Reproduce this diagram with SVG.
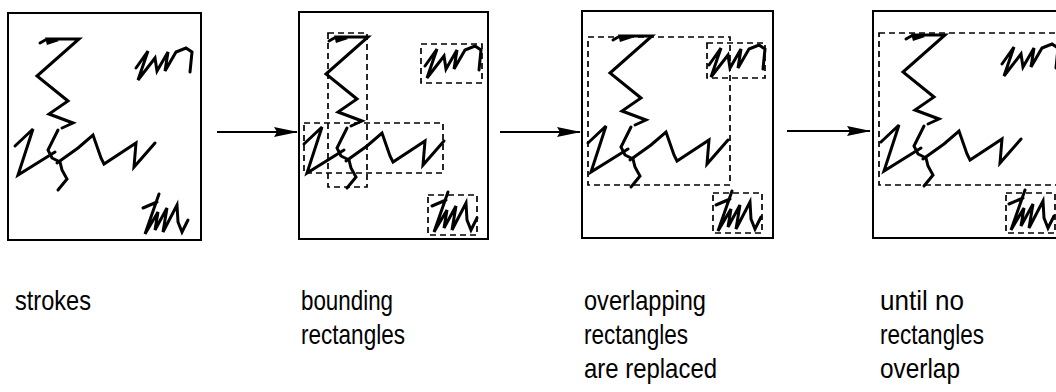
<svg xmlns="http://www.w3.org/2000/svg" xmlns:xlink="http://www.w3.org/1999/xlink" width="1056" height="392" viewBox="0 0 1056 392">
<style>
.panel{fill:#fff;stroke:#000;stroke-width:2}
.ink{fill:none;stroke:#000;stroke-width:3;stroke-linejoin:miter;stroke-linecap:round}
.box{fill:none;stroke:#000;stroke-width:1.7;stroke-dasharray:6 4}
.conn{stroke:#000;stroke-width:2;fill:none}
.lbl{font-family:"Liberation Sans",Arial,sans-serif;font-size:28px;fill:#000}
</style>
<defs>
<marker id="ah" markerWidth="24" markerHeight="10" refX="23" refY="5" orient="auto" markerUnits="userSpaceOnUse" viewBox="0 0 24 10">
<path d="M0,0 L24,5 L0,10 L3,5 Z" fill="#000"/>
</marker>
<g id="ink">
<path class="ink" d="M40,43 L47,39 L54,41 L48,43 L47,39 L79,39 L37,76 L68,101 L49,114 L73,123 L62,128"/>
<path class="ink" d="M58,130 L48,150 L52,158 L60,162 L62,170 L67,179 L58,190"/>
<path class="ink" d="M15,146 L33,129 L18,175 L55,152"/>
<path class="ink" d="M57,163 L78,148 L93,135 L101,158 L104,164 L136,143 L134,167 L155,143"/>
<path class="ink" d="M136,68 L148,51 L138,80 L155,58 L157,71 L168,52 L165,71 L176,52 L186,48 L192,52 L190,72"/>
<path class="ink" d="M143,208 L157,202 M159,194 L145,234 L158,212 L155,230 L167,208 L163,232 L177,205 L178,222 L182,232 L188,220"/>
</g>
</defs>

<g id="panel1">
<rect class="panel" x="8" y="13" width="193" height="227"/>
<use xlink:href="#ink"/>
</g>

<g id="panel2">
<rect class="panel" x="299" y="12" width="189" height="227"/>
<use xlink:href="#ink" transform="translate(289,-2)"/>
<rect class="box" x="328" y="33" width="39" height="154"/>
<rect class="box" x="304" y="123" width="139" height="50"/>
<rect class="box" x="421" y="44" width="61" height="39"/>
<rect class="box" x="428" y="195" width="49" height="40"/>
</g>

<g id="panel3">
<rect class="panel" x="582" y="11" width="191" height="227"/>
<use xlink:href="#ink" transform="translate(573,-3)"/>
<rect class="box" x="588" y="37" width="142" height="148"/>
<rect class="box" x="707" y="43" width="58" height="35"/>
<rect class="box" x="713" y="193" width="49" height="40"/>
</g>

<g id="panel4">
<rect class="panel" x="873" y="11" width="192" height="227"/>
<use xlink:href="#ink" transform="translate(866,-4)"/>
<rect class="box" x="879" y="33" width="190" height="152"/>
<rect class="box" x="1006" y="193" width="49" height="40"/>
</g>

<g id="connectors">
<line class="conn" x1="217" y1="132" x2="297" y2="132" marker-end="url(#ah)"/>
<line class="conn" x1="500" y1="132" x2="580" y2="132" marker-end="url(#ah)"/>
<line class="conn" x1="787" y1="131" x2="870" y2="131" marker-end="url(#ah)"/>
</g>

<g id="labels">
<text class="lbl" x="15" y="310" textLength="76" lengthAdjust="spacingAndGlyphs">strokes</text>
<text class="lbl" x="301" y="310" textLength="92" lengthAdjust="spacingAndGlyphs">bounding</text>
<text class="lbl" x="301" y="344" textLength="104" lengthAdjust="spacingAndGlyphs">rectangles</text>
<text class="lbl" x="584" y="310" textLength="122" lengthAdjust="spacingAndGlyphs">overlapping</text>
<text class="lbl" x="584" y="344" textLength="104" lengthAdjust="spacingAndGlyphs">rectangles</text>
<text class="lbl" x="584" y="378" textLength="133" lengthAdjust="spacingAndGlyphs">are replaced</text>
<text class="lbl" x="880" y="310" textLength="84" lengthAdjust="spacingAndGlyphs">until no</text>
<text class="lbl" x="880" y="344" textLength="104" lengthAdjust="spacingAndGlyphs">rectangles</text>
<text class="lbl" x="880" y="378" textLength="80" lengthAdjust="spacingAndGlyphs">overlap</text>
</g>
</svg>
